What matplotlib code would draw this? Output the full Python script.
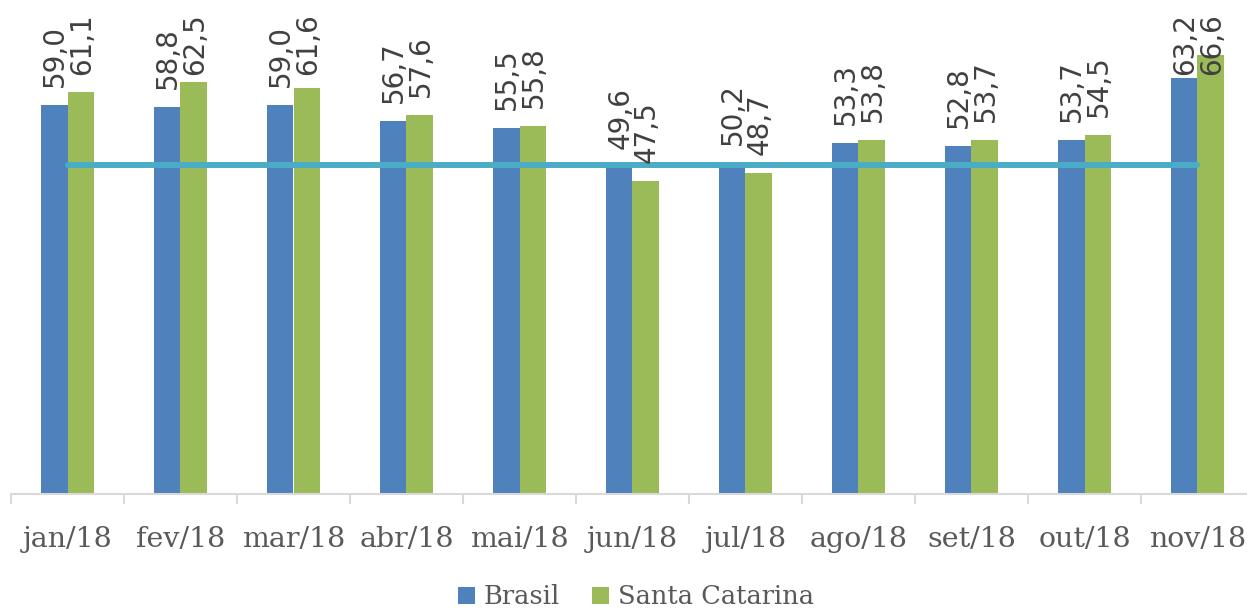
import matplotlib
matplotlib.use("Agg")
import matplotlib.pyplot as plt
import numpy as np

# monthly values
months = ["jan/18", "fev/18", "mar/18", "abr/18", "mai/18", "jun/18",
          "jul/18", "ago/18", "set/18", "out/18", "nov/18"]
brasil = [59.0, 58.8, 59.0, 56.7, 55.5, 49.6, 50.2, 53.3, 52.8, 53.7, 63.2]
santa_catarina = [61.1, 62.5, 61.6, 57.6, 55.8, 47.5, 48.7, 53.8, 53.7, 54.5, 66.6]
reference = [50, 50, 50, 50, 50, 50, 50, 50, 50, 50, 50]

blue = "#4F81BD"
green = "#9BBB59"
teal = "#4BACC6"
grey_txt = "#595959"

fig = plt.figure(figsize=(12.47, 6.08), dpi=100)
ax = fig.add_axes([11 / 1247, 114 / 608, 1243 / 1247, 494 / 608])
ymax = 75.0
px_per_unit = 494 / ymax

x = np.arange(len(months))
w = 0.236
b1 = ax.bar(x - w / 2, brasil, w, color=blue, label="Brasil", zorder=2)
b2 = ax.bar(x + w / 2, santa_catarina, w, color=green, label="Santa Catarina", zorder=2)
ax.plot(x, reference, color=teal, lw=4.3, solid_capstyle="round", zorder=3)

# data labels, rotated; pushed down when they would leave the plot area
gap = 18 / px_per_unit
label_len = 62 / px_per_unit
cap = ymax - 13 / px_per_unit - label_len
for bars, vals in ((b1, brasil), (b2, santa_catarina)):
    for rect, v in zip(bars, vals):
        ax.text(rect.get_x() + rect.get_width() / 2 + 0.01, min(v + gap, cap),
                f"{v:.1f}".replace(".", ","),
                rotation=90, ha="center", va="bottom",
                fontsize=20, color="#404040", family="DejaVu Sans", zorder=4)

ax.set_xlim(-0.5, len(months) - 0.5)
ax.set_ylim(0, ymax)
ax.set_yticks([])
for s in ("top", "right", "left"):
    ax.spines[s].set_visible(False)
ax.spines["bottom"].set_color("#D9D9D9")
ax.spines["bottom"].set_linewidth(1.5)

ax.set_xticks(x)
ax.set_xticklabels(months, family="DejaVu Serif", fontsize=20.5, color=grey_txt)
ax.tick_params(axis="x", which="major", length=0, pad=23)
ax.set_xticks(np.arange(-0.5, len(months), 1), minor=True)
ax.tick_params(axis="x", which="minor", length=7.5, width=1.5, color="#D9D9D9")

fig.legend(handles=[b1, b2], loc="center", bbox_to_anchor=(0.51, 1 - 597 / 608),
           ncol=2, frameon=False, prop={"family": "DejaVu Serif", "size": 18.5},
           labelcolor=grey_txt, handlelength=0.66, handleheight=0.66,
           handletextpad=0.35, columnspacing=1.25)

fig.savefig("out.png", dpi=100)
